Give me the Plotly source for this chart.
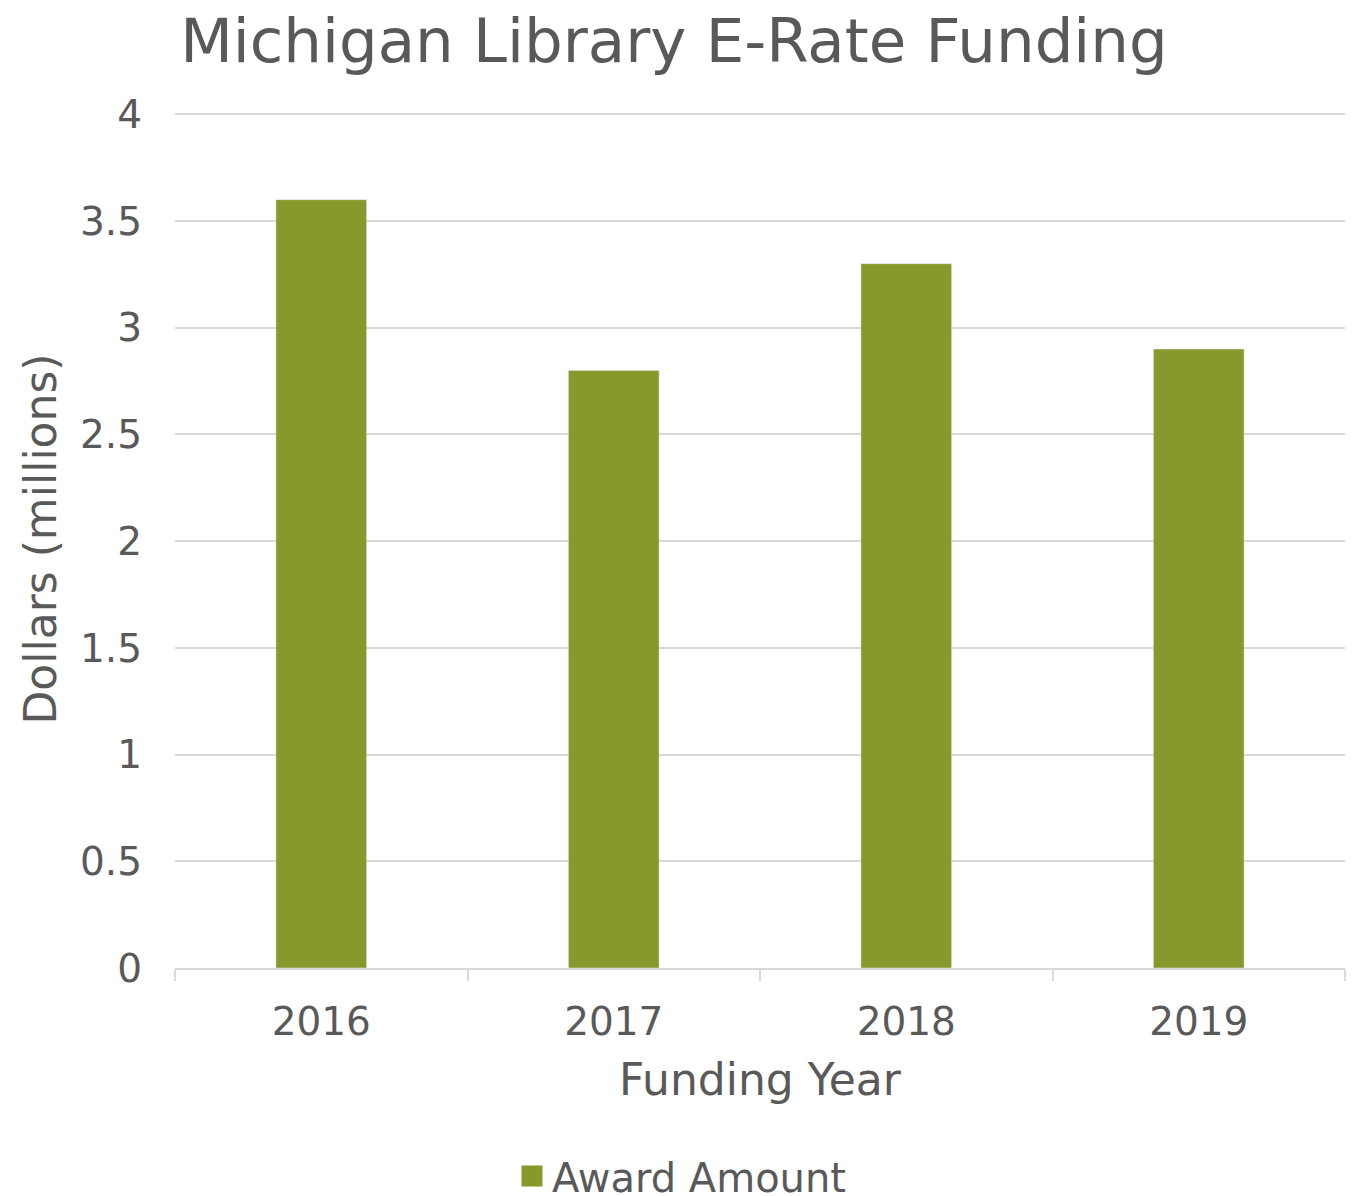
import plotly.graph_objects as go

# Michigan library E-Rate awards, millions of dollars
years = ['2016', '2017', '2018', '2019']
award_amount = [3.6, 2.8, 3.3, 2.9]

bar_color = '#859a2b'
text_color = '#595959'
grid_color = '#d9d9d9'
font_family = 'DejaVu Sans, Verdana, sans-serif'

fig = go.Figure()

fig.add_trace(go.Bar(
    x=years,
    y=award_amount,
    name='Award Amount',
    marker_color=bar_color,
    showlegend=False
))

# legend-only entry so the swatch is a larger square
fig.add_trace(go.Scatter(
    x=[None],
    y=[None],
    mode='markers',
    name='Award Amount',
    marker=dict(symbol='square', size=16, color=bar_color,
                line=dict(width=5, color=bar_color)),
    showlegend=True
))

# page body adds an 8px offset, so margins are shifted to compensate
fig.update_layout(
    width=1363,
    height=1196,
    paper_bgcolor='white',
    plot_bgcolor='white',
    font=dict(family=font_family, color=text_color, size=39),
    title=dict(
        text='Michigan Library E-Rate Funding',
        x=0.4886, xanchor='center',
        y=0.973, yanchor='middle',
        font=dict(size=61, color=text_color)
    ),
    margin=dict(l=167, r=26, t=102, b=236),
    bargap=0.69,
    showlegend=True,
    legend=dict(
        orientation='h',
        xref='container', yref='container',
        x=0.4945, xanchor='center',
        y=0.0235, yanchor='middle',
        font=dict(size=40, color=text_color)
    ),
    xaxis=dict(
        title=dict(text='Funding Year', font=dict(size=44), standoff=21),
        automargin=False,
        showline=True,
        linecolor=grid_color,
        linewidth=2,
        ticks='outside',
        tickson='boundaries',
        ticklen=11,
        tickwidth=2,
        tickcolor=grid_color,
        tickfont=dict(size=39),
        ticklabelstandoff=18,
    ),
    yaxis=dict(
        title=dict(text='Dollars (millions)', font=dict(size=44), standoff=9),
        automargin=False,
        range=[0, 4.02],
        tickvals=[0, 0.5, 1, 1.5, 2, 2.5, 3, 3.5, 4],
        showgrid=True,
        gridcolor=grid_color,
        gridwidth=2,
        zeroline=False,
        tickfont=dict(size=39),
        ticks='',
        ticklabelstandoff=32,
    )
)

fig.write_html("out.html")
